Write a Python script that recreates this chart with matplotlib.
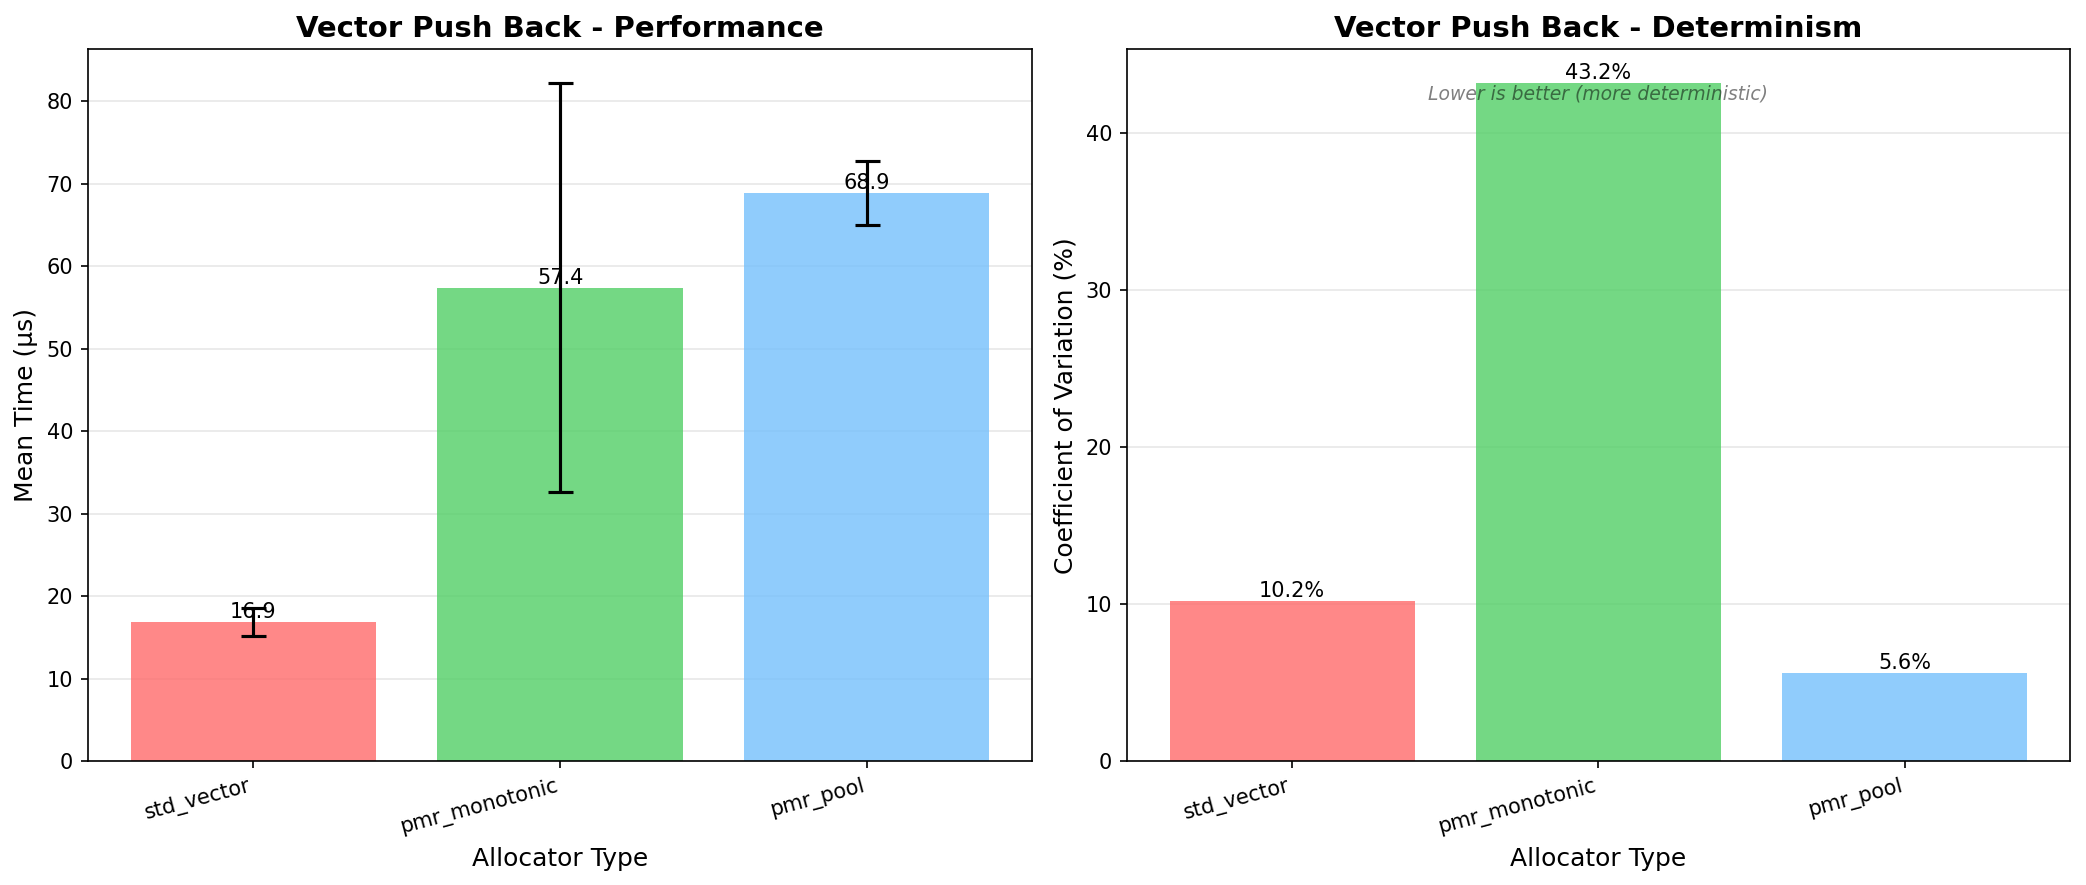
import matplotlib
matplotlib.use("Agg")
import matplotlib.pyplot as plt

allocators = ["std_vector", "pmr_monotonic", "pmr_pool"]
mean_us = [16.9, 57.4, 68.9]
std_us = [1.72, 24.8, 3.86]
cv_pct = [10.2, 43.2, 5.6]
colors = ["#ff6b6b", "#51cf66", "#74c0fc"]

W, H = 2086, 885
# reference layout measured on a 1568x665 view
VW, VH = 1568, 665
fig = plt.figure(figsize=(W / 150, H / 150), dpi=150)
ax1 = fig.add_axes([66 / VW, 1 - 572 / VH, (776 - 66) / VW, (572 - 37) / VH])
ax2 = fig.add_axes([847 / VW, 1 - 572 / VH, (1556 - 847) / VW, (572 - 37) / VH])

x = range(len(allocators))
bars1 = ax1.bar(x, mean_us, yerr=std_us, capsize=6, color=colors, alpha=0.8,
                error_kw=dict(ecolor="black", elinewidth=1.5, capthick=1.5))
for b, v in zip(bars1, mean_us):
    ax1.text(b.get_x() + b.get_width() / 2, b.get_height(), f"{v:.1f}",
             ha="center", va="bottom", fontsize=10)
ax1.set_title("Vector Push Back - Performance", fontsize=14, fontweight="bold")
ax1.set_ylabel("Mean Time (µs)", fontsize=12)
ax1.set_xlabel("Allocator Type", fontsize=12)
ax1.set_xticks(list(x))
ax1.set_xticklabels(allocators, rotation=15, ha="right")
ax1.grid(axis="y", alpha=0.3)
ax1.set_axisbelow(True)

bars2 = ax2.bar(x, cv_pct, color=colors, alpha=0.8)
for b, v in zip(bars2, cv_pct):
    ax2.text(b.get_x() + b.get_width() / 2, b.get_height(), f"{v:.1f}%",
             ha="center", va="bottom", fontsize=10)
ax2.set_title("Vector Push Back - Determinism", fontsize=14, fontweight="bold")
ax2.set_ylabel("Coefficient of Variation (%)", fontsize=12)
ax2.set_xlabel("Allocator Type", fontsize=12)
ax2.set_xticks(list(x))
ax2.set_xticklabels(allocators, rotation=15, ha="right")
ax2.grid(axis="y", alpha=0.3)
ax2.set_axisbelow(True)
ax2.text(0.5, 0.95, "Lower is better (more deterministic)", transform=ax2.transAxes,
         ha="center", va="top", fontsize=9, style="italic", alpha=0.5)

fig.savefig("out.png", dpi=150)
